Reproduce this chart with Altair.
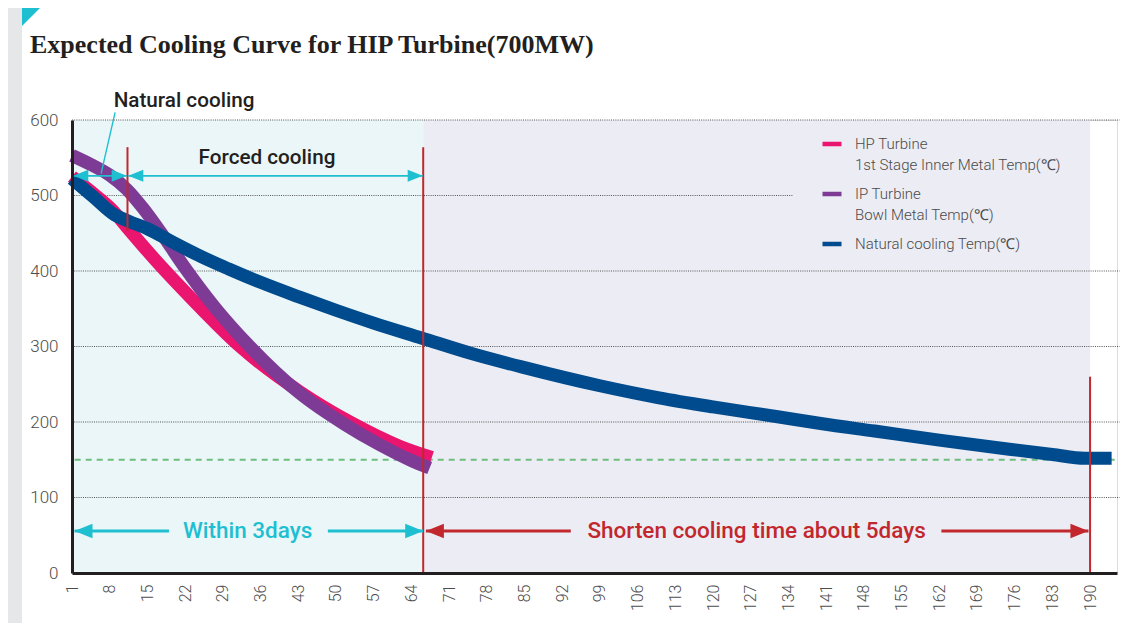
import altair as alt
import pandas as pd

# ---------------- values ----------------
x_tick_days = [1, 8, 15, 22, 29, 36, 43, 50, 57, 64, 71, 78, 85, 92, 99, 106,
               113, 120, 127, 134, 141, 148, 155, 162, 169, 176, 183, 190]
y_tick_temps = [0, 100, 200, 300, 400, 500, 600]
grid_temps = [100, 200, 300, 400, 500, 600]
grid_end_day = [195.5, 195.5, 195.5, 195.5, 134.8, 195.5]  # 500 line stops at the legend

hp_day = [1, 4.9, 8.6, 11.2, 17.3, 23.4, 32.2, 43.3, 52.6, 61.8, 67.8]
hp_temp = [525, 503, 480, 458, 408, 362, 300, 240, 200, 168, 153]

ip_day = [1, 4.5, 8, 11.2, 14.2, 17.3, 21.6, 27.5, 34, 43.3, 51.6, 58.1, 63.7, 67.4]
ip_temp = [553, 541, 527, 508, 483, 453, 408, 352, 300, 238, 197, 170, 150, 139]

nat_day = [1, 5, 9, 11.5, 15, 20, 25, 30, 36, 43, 50, 57, 66, 75, 85, 99,
           110, 120, 132, 140, 150, 162, 175, 183, 189, 194]
nat_temp = [522, 498, 474, 466, 456, 437, 419, 403, 385, 366, 348, 331, 311,
            291, 272, 248, 232, 220, 207, 198, 188, 176, 164, 157, 152, 152]

series_names = ["HP Turbine|1st Stage Inner Metal Temp(℃)",
                "IP Turbine|Bowl Metal Temp(℃)",
                "Natural cooling Temp(℃)"]
series_colors = ["#E9156E", "#7E3B96", "#004B8D"]

zone_from = [1, 66.2]
zone_to = [66.2, 190]
zone_top = 600
zone_colors = ["#EAF6F8", "#ECECF4"]

target_temp = [150]
target_from, target_to = 1.5, 194.6

marker_day = [11.3, 66.2, 190]
marker_low = [453, 0, 0]
marker_high = [564, 564, 260]

top_arrow_temp = 526
top_arrow_from = [1.24, 11.45]
top_arrow_to = [11.15, 66.1]

bottom_arrow_temp = 55.6
cyan_seg_from = [1.46, 48.5]
cyan_seg_to = [19.0, 66.2]
red_seg_from = [66.7, 162.4]
red_seg_to = [93.6, 189.7]

leader_from = (9.0, 610)
leader_to = (6.4, 529)

dark_labels = ["Natural cooling", "Forced cooling"]
dark_label_day = [21.8, 37.2]
dark_label_temp = [625, 550]
cyan_label = "Within 3days"
cyan_label_day = 33.6
red_label = "Shorten cooling time about 5days"
red_label_day = 128.1

# ---------------- styling ----------------
W, H = 1045, 453
CYAN = "#1EBFD0"
RED = "#C1272D"
DARK = "#231F20"
FONT = "Roboto"

xs = alt.Scale(domain=[1, 195], nice=False, zero=False)
ys = alt.Scale(domain=[0, 600], nice=False)

x_axis = alt.Axis(values=x_tick_days, labelAngle=270, title=None, ticks=False, grid=False,
                  domainColor=DARK, domainWidth=3, labelFont=FONT, labelFontWeight=300,
                  labelFontSize=16, labelColor="#4D4D4D", labelPadding=11,
                  labelOverlap=False, labelFlush=False, labelLineHeight=16, zindex=1)
y_axis = alt.Axis(values=y_tick_temps, title=None, ticks=False, grid=False,
                  domainColor=DARK, domainWidth=3, labelFont=FONT, labelFontWeight=300,
                  labelFontSize=17, labelColor="#4D4D4D", labelPadding=14,
                  labelOverlap=False, labelLineHeight=17, zindex=1)

LEFT_HEAD = "M0,0L2,-0.8L2,0.8Z"
RIGHT_HEAD = "M0,0L-2,-0.8L-2,0.8Z"


def xq(f):
    return alt.X(f"{f}:Q", scale=xs, axis=x_axis)


def yq(f):
    return alt.Y(f"{f}:Q", scale=ys, axis=y_axis)


# page decoration: grey strip at the left and cyan corner mark
strip = alt.Chart(alt.Data(values=[{}])).mark_rect(color="#E6E7E9").encode(
    x=alt.value(-64), x2=alt.value(-50), y=alt.value(-112), y2=alt.value(H + 60)
)
corner = alt.Chart(alt.Data(values=[{}])).mark_point(
    shape="M0,0L2,0L0,2Z", size=324, filled=True, opacity=1, color=CYAN
).encode(x=alt.value(-50), y=alt.value(-112))

zones = alt.Chart(pd.DataFrame({"a": zone_from, "b": zone_to, "c": zone_colors,
                                "top": zone_top, "bottom": 0})).mark_rect().encode(
    x=xq("a"), x2="b", y=yq("top"), y2="bottom",
    fill=alt.Fill("c:N", scale=None),
)

grid = alt.Chart(pd.DataFrame({"t": grid_temps, "a": 1, "b": grid_end_day})).mark_rule(
    color="#555555", strokeWidth=1, strokeDash=[1, 1.2]
).encode(y=yq("t"), x=xq("a"), x2="b")

target = alt.Chart(pd.DataFrame({"t": target_temp, "a": target_from, "b": target_to})
                   ).mark_rule(color="#6DBD7C", strokeWidth=1.8, strokeDash=[6, 5]
                               ).encode(y=yq("t"), x=xq("a"), x2="b")

legend = alt.Legend(title=None, orient="none", legendX=748, legendY=12,
                    symbolType="stroke", symbolSize=361, symbolStrokeWidth=4.5,
                    labelExpr="split(datum.label, '|')", labelFont=FONT,
                    labelFontWeight=300, labelFontSize=15, labelColor="#4A4A4A",
                    labelOffset=11, rowPadding=9, labelLimit=400, padding=0)
color = alt.Color("series:N", scale=alt.Scale(domain=series_names, range=series_colors),
                  legend=legend)


def series_layer(days, temps, name):
    df = pd.DataFrame({"day": days, "temp": temps, "series": name})
    return alt.Chart(df).mark_line(interpolate="monotone", strokeCap="butt").encode(
        x=xq("day"), y=yq("temp"), color=color, strokeWidth=alt.value(13)
    )


hp = series_layer(hp_day, hp_temp, series_names[0])
ip = series_layer(ip_day, ip_temp, series_names[1])
nat = series_layer(nat_day, nat_temp, series_names[2])

markers = alt.Chart(pd.DataFrame({"d": marker_day, "lo": marker_low, "hi": marker_high})
                    ).mark_rule(color=RED, strokeWidth=2).encode(
    x=xq("d"), y=yq("lo"), y2="hi")

top_arrows = alt.Chart(pd.DataFrame({"a": top_arrow_from, "b": top_arrow_to,
                                     "t": top_arrow_temp})).mark_rule(
    color=CYAN, strokeWidth=1.6).encode(x=xq("a"), x2="b", y=yq("t"))
top_heads_l = alt.Chart(pd.DataFrame({"d": top_arrow_from, "t": top_arrow_temp})).mark_point(
    shape=LEFT_HEAD, size=225, filled=True, opacity=1, color=CYAN).encode(x=xq("d"), y=yq("t"))
top_heads_r = alt.Chart(pd.DataFrame({"d": top_arrow_to, "t": top_arrow_temp})).mark_point(
    shape=RIGHT_HEAD, size=225, filled=True, opacity=1, color=CYAN).encode(x=xq("d"), y=yq("t"))

leader = alt.Chart(pd.DataFrame({"a": [leader_from[0]], "b": [leader_to[0]],
                                 "ta": [leader_from[1]], "tb": [leader_to[1]]})).mark_rule(
    color=CYAN, strokeWidth=1.4).encode(x=xq("a"), x2="b", y=yq("ta"), y2="tb")

cyan_segs = alt.Chart(pd.DataFrame({"a": cyan_seg_from, "b": cyan_seg_to,
                                    "t": bottom_arrow_temp})).mark_rule(
    color=CYAN, strokeWidth=3).encode(x=xq("a"), x2="b", y=yq("t"))
red_segs = alt.Chart(pd.DataFrame({"a": red_seg_from, "b": red_seg_to,
                                   "t": bottom_arrow_temp})).mark_rule(
    color=RED, strokeWidth=3).encode(x=xq("a"), x2="b", y=yq("t"))
cyan_heads_l = alt.Chart(pd.DataFrame({"d": [cyan_seg_from[0]], "t": bottom_arrow_temp})).mark_point(
    shape=LEFT_HEAD, size=324, filled=True, opacity=1, color=CYAN).encode(x=xq("d"), y=yq("t"))
cyan_heads_r = alt.Chart(pd.DataFrame({"d": [cyan_seg_to[-1]], "t": bottom_arrow_temp})).mark_point(
    shape=RIGHT_HEAD, size=324, filled=True, opacity=1, color=CYAN).encode(x=xq("d"), y=yq("t"))
red_heads_l = alt.Chart(pd.DataFrame({"d": [red_seg_from[0]], "t": bottom_arrow_temp})).mark_point(
    shape=LEFT_HEAD, size=324, filled=True, opacity=1, color=RED).encode(x=xq("d"), y=yq("t"))
red_heads_r = alt.Chart(pd.DataFrame({"d": [red_seg_to[-1]], "t": bottom_arrow_temp})).mark_point(
    shape=RIGHT_HEAD, size=324, filled=True, opacity=1, color=RED).encode(x=xq("d"), y=yq("t"))

dark_text = alt.Chart(pd.DataFrame({"s": dark_labels, "d": dark_label_day,
                                    "t": dark_label_temp})).mark_text(
    font=FONT, fontSize=20.7, fontWeight=500, color=DARK, align="center", baseline="middle"
).encode(x=xq("d"), y=yq("t"), text="s:N")
cyan_text = alt.Chart(pd.DataFrame({"s": [cyan_label], "d": [cyan_label_day],
                                    "t": [bottom_arrow_temp]})).mark_text(
    font=FONT, fontSize=22.5, fontWeight=500, color=CYAN, align="center", baseline="middle"
).encode(x=xq("d"), y=yq("t"), text="s:N")
red_text = alt.Chart(pd.DataFrame({"s": [red_label], "d": [red_label_day],
                                   "t": [bottom_arrow_temp]})).mark_text(
    font=FONT, fontSize=22.5, fontWeight=500, color=RED, align="center", baseline="middle"
).encode(x=xq("d"), y=yq("t"), text="s:N")

chart = alt.layer(
    strip, corner, zones, grid, target, hp, ip, nat, markers,
    top_arrows, top_heads_l, top_heads_r, leader,
    cyan_segs, red_segs, cyan_heads_l, cyan_heads_r, red_heads_l, red_heads_r,
    dark_text, cyan_text, red_text,
).properties(
    width=W, height=H,
    autosize=alt.AutoSizeParams(type="none"),
    padding={"left": 64, "top": 112, "right": 8, "bottom": 50},
    background="white",
    title=alt.TitleParams(
        text="Expected Cooling Curve for HIP Turbine(700MW)", anchor="start",
        frame="group", font="Liberation Serif", fontSize=26, fontWeight="bold",
        color=DARK, offset=0, dx=-42, dy=50,
    ),
).configure_view(strokeWidth=0).configure_axis(labelOverlap=False).configure(
    style={"guide-label": {"lineHeight": 21}}
)

chart.save("out.html", embed_options={"renderer": "svg", "actions": False})
